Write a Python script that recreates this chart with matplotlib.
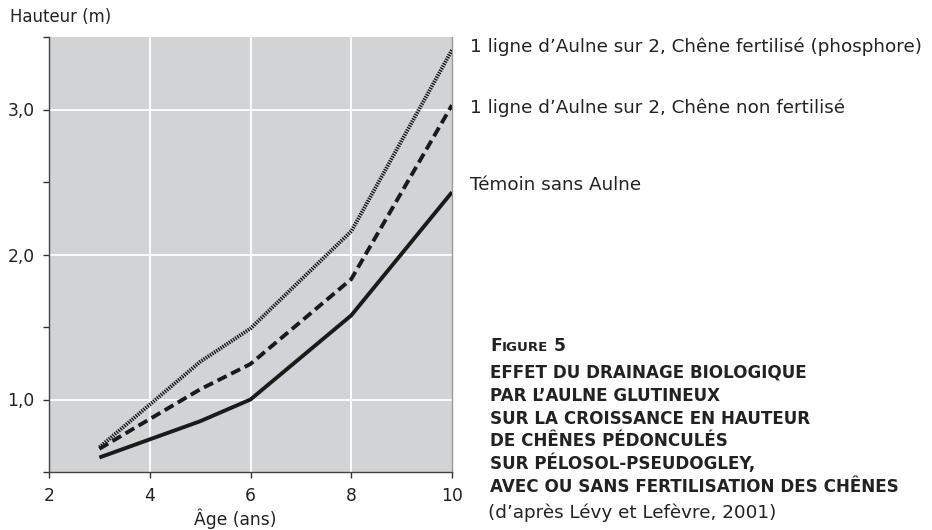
import matplotlib
matplotlib.use("Agg")
import matplotlib.pyplot as plt
from matplotlib.ticker import FixedLocator, FuncFormatter

# ---- data ----
ages = [3, 5, 6, 8, 10]
fertilise = [0.67, 1.26, 1.49, 2.16, 3.41]
non_fertilise = [0.66, 1.07, 1.245, 1.83, 3.03]
temoin = [0.60, 0.85, 1.00, 1.58, 2.43]

x_ticks = [2, 4, 6, 8, 10]
y_ticks = [0.5, 1.0, 1.5, 2.0, 2.5, 3.0, 3.5]
y_labeled = [1.0, 2.0, 3.0]
x_grid = [4, 6, 8]

series_labels = [
    "1 ligne d\u2019Aulne sur 2, Chêne fertilisé (phosphore)",
    "1 ligne d\u2019Aulne sur 2, Chêne non fertilisé",
    "Témoin sans Aulne",
]
title_lines = [
    "EFFET DU DRAINAGE BIOLOGIQUE",
    "PAR L\u2019AULNE GLUTINEUX",
    "SUR LA CROISSANCE EN HAUTEUR",
    "DE CHÊNES PÉDONCULÉS",
    "SUR PÉLOSOL-PSEUDOGLEY,",
    "AVEC OU SANS FERTILISATION DES CHÊNES",
]
source = "(d\u2019après Lévy et Lefèvre, 2001)"

plt.rcParams['font.family'] = ['DejaVu Sans']
W, H = 932, 530
fig = plt.figure(figsize=(W / 100, H / 100), dpi=100)
TXT = '#222222'
FS = 12.3
FS_LAB = 13.2

def fx(px):
    return px / W

def fy(py):
    return 1 - py / H

ax = fig.add_axes([fx(49), fy(472), fx(452) - fx(49), fy(37) - fy(472)])
ax.set_facecolor('#d2d3d5')
ax.set_xlim(2, 10)
ax.set_ylim(0.5, 3.5)

for g in x_grid:
    ax.axvline(g, color='white', lw=1.3, zorder=1)
for g in y_labeled:
    ax.axhline(g, color='white', lw=1.3, zorder=1)

ax.plot(ages, fertilise, color='#111111', lw=2.8, linestyle=(0, (0.35, 0.3)),
        solid_capstyle='butt', dash_capstyle='butt', zorder=3)
ax.plot(ages, non_fertilise, color='#1a1a1a', lw=2.8, linestyle=(0, (2.6, 1.3)),
        dash_capstyle='butt', zorder=3)
ax.plot(ages, temoin, color='#1a1a1a', lw=2.8, solid_capstyle='butt', zorder=3)

ax.xaxis.set_major_locator(FixedLocator(x_ticks))
ax.yaxis.set_major_locator(FixedLocator(y_ticks))
ax.yaxis.set_major_formatter(FuncFormatter(
    lambda v, p: (f"{v:.1f}".replace('.', ',') if v in y_labeled else "")))
ax.tick_params(axis='both', direction='out', length=4.5, width=1.0,
               color='#333333', labelsize=FS, labelcolor=TXT)
ax.tick_params(axis='x', pad=6)
ax.tick_params(axis='y', pad=6)

for s in ['left', 'bottom']:
    ax.spines[s].set_color('#444444')
    ax.spines[s].set_linewidth(1.0)
ax.spines['top'].set_visible(False)
ax.spines['right'].set_color('#9a9a9a')
ax.spines['right'].set_linewidth(1.0)

ax.set_xlabel("Âge (ans)", fontsize=FS, color=TXT)
ax.xaxis.set_label_coords((235 - 49) / 403, -(519 - 472) / 435)
ax.xaxis.label.set_va('center')
fig.text(fx(10), fy(17), "Hauteur (m)", fontsize=11.9, color=TXT, va='center', ha='left')

# series labels
for lab, yb in zip(series_labels, [52, 113, 190]):
    fig.text(fx(470), fy(yb), lab, fontsize=FS_LAB, color=TXT, va='baseline', ha='left')

# Figure caption with small caps
fig.canvas.draw()
r = fig.canvas.get_renderer()
t1 = fig.text(fx(490), fy(351), "F", fontsize=FS, fontweight='bold', color=TXT,
              va='baseline', ha='left')
bb = t1.get_window_extent(renderer=r)
t2 = fig.text(bb.x1 / W + 0.0005, fy(351), "IGURE", fontsize=FS * 0.78, fontweight='bold',
              color=TXT, va='baseline', ha='left')
bb2 = t2.get_window_extent(renderer=r)
fig.text(bb2.x1 / W, fy(351), " 5", fontsize=FS, fontweight='bold', color=TXT,
         va='baseline', ha='left')

for i, line in enumerate(title_lines):
    fig.text(fx(490), fy(378 + i * 22.8), line, fontsize=FS * 0.98, fontweight='bold',
             color=TXT, va='baseline', ha='left')

fig.text(fx(488), fy(518), source, fontsize=FS_LAB, color=TXT, va='baseline', ha='left')

fig.savefig("out.png", dpi=100)
